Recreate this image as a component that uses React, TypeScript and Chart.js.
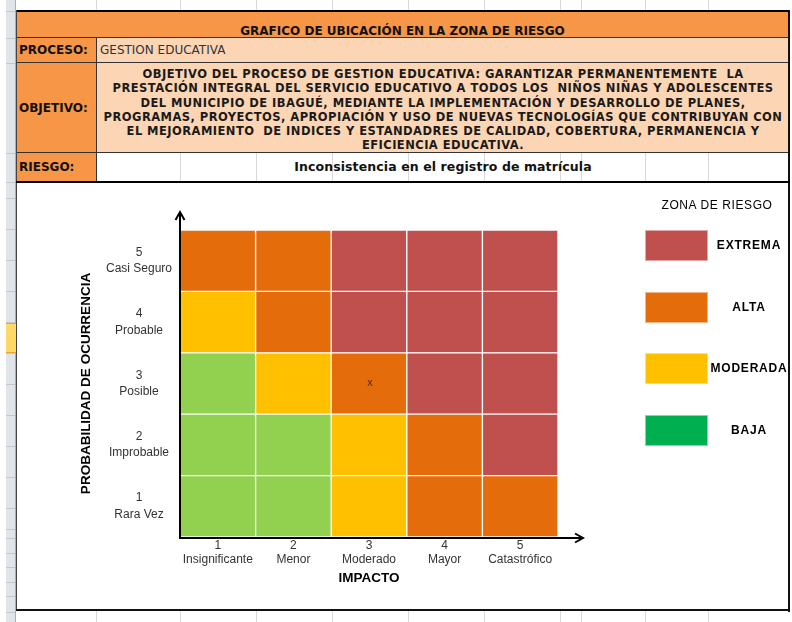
import React, { useEffect, useRef } from "react";
import { Chart, registerables } from "chart.js";

Chart.register(...registerables);

// ---------- data ----------
const TITLE = "GRAFICO DE UBICACIÓN EN LA ZONA DE RIESGO";
const PROCESS_LABEL = "PROCESO:";
const PROCESS_VALUE = "GESTION EDUCATIVA";
const OBJECTIVE_LABEL = "OBJETIVO:";
const OBJECTIVE_LINES = [
  "OBJETIVO DEL PROCESO DE GESTION EDUCATIVA: GARANTIZAR PERMANENTEMENTE  LA",
  "PRESTACIÓN INTEGRAL DEL SERVICIO EDUCATIVO A TODOS LOS  NIÑOS NIÑAS Y ADOLESCENTES",
  "DEL MUNICIPIO DE IBAGUÉ, MEDIANTE LA IMPLEMENTACIÓN Y DESARROLLO DE PLANES,",
  "PROGRAMAS, PROYECTOS, APROPIACIÓN Y USO DE NUEVAS TECNOLOGÍAS QUE CONTRIBUYAN CON",
  "EL MEJORAMIENTO  DE INDICES Y ESTANDADRES DE CALIDAD, COBERTURA, PERMANENCIA Y",
  "EFICIENCIA EDUCATIVA.",
];
const RISK_LABEL = "RIESGO:";
const RISK_VALUE = "Inconsistencia en el registro de matrícula";

const IMPACT_LABELS = ["Insignificante", "Menor", "Moderado", "Mayor", "Catastrófico"];
const PROBABILITY_LABELS = ["Rara Vez", "Improbable", "Posible", "Probable", "Casi Seguro"];
const X_TITLE = "IMPACTO";
const Y_TITLE = "PROBABILIDAD DE OCURRENCIA";

// zone code per cell, row by probability (1 = bottom), columns by impact
const ROW_PROB_1 = ["B", "B", "M", "A", "A"];
const ROW_PROB_2 = ["B", "B", "M", "A", "E"];
const ROW_PROB_3 = ["B", "M", "A", "E", "E"];
const ROW_PROB_4 = ["M", "A", "E", "E", "E"];
const ROW_PROB_5 = ["A", "A", "E", "E", "E"];
const MATRIX_ROWS = [ROW_PROB_1, ROW_PROB_2, ROW_PROB_3, ROW_PROB_4, ROW_PROB_5];
const CELL_COLORS: Record<string, string> = {
  E: "#C0504D",
  A: "#E46C0A",
  M: "#FFC000",
  B: "#92D050",
};

const RISK_IMPACT = "Moderado";
const RISK_PROBABILITY = 3;
const RISK_MARK = "x";

const LEGEND_TITLE = "ZONA DE RIESGO";
const LEGEND_LABELS = ["EXTREMA", "ALTA", "MODERADA", "BAJA"];
const LEGEND_COLORS = ["#C0504D", "#E46C0A", "#FFC000", "#00B050"];

// spreadsheet background grid
const SHEET_COLUMNS = [96, 180, 256, 332, 408, 484, 560, 581, 645, 708];
const SHEET_ROWS = [11, 38, 63, 153, 182, 198, 229, 260, 291, 322, 353, 384, 415, 446, 477, 508, 529, 538, 553, 567, 582, 596, 612];

// ---------- styles ----------
const ORANGE = "#F79646";
const PEACH = "#FCD5B4";
const HDR_FONT = "'DejaVu Sans', sans-serif";

const arrowPlugin = {
  id: "axisArrows",
  afterDatasetsDraw(chart: any) {
    const { ctx, chartArea } = chart;
    const x0 = chartArea.left;
    const y0 = chartArea.bottom + 1;
    ctx.save();
    ctx.strokeStyle = "#000";
    ctx.lineWidth = 2;
    ctx.lineCap = "butt";
    // y axis
    const yTip = chartArea.top - 18;
    ctx.beginPath();
    ctx.moveTo(x0, y0 + 1);
    ctx.lineTo(x0, yTip);
    ctx.stroke();
    ctx.beginPath();
    ctx.moveTo(x0 - 4.5, yTip + 8);
    ctx.lineTo(x0, yTip);
    ctx.lineTo(x0 + 4.5, yTip + 8);
    ctx.stroke();
    // x axis
    const xTip = chartArea.right + 25;
    ctx.beginPath();
    ctx.moveTo(x0 - 1, y0);
    ctx.lineTo(xTip, y0);
    ctx.stroke();
    ctx.beginPath();
    ctx.moveTo(xTip - 8, y0 - 4.5);
    ctx.lineTo(xTip, y0);
    ctx.lineTo(xTip - 8, y0 + 4.5);
    ctx.stroke();
    ctx.restore();
  },
};

const markPlugin = {
  id: "riskMark",
  afterDatasetsDraw(chart: any) {
    const { ctx, scales } = chart;
    const xi = IMPACT_LABELS.indexOf(RISK_IMPACT);
    const px = scales.x.getPixelForValue(xi);
    const py = scales.y.getPixelForValue(RISK_PROBABILITY - 0.5);
    ctx.save();
    ctx.fillStyle = "#5A2A05";
    ctx.font = "11px 'Liberation Sans'";
    ctx.textAlign = "center";
    ctx.textBaseline = "middle";
    ctx.fillText(RISK_MARK, px + 1, py - 1);
    ctx.restore();
  },
};

function RiskChart() {
  const ref = useRef<HTMLCanvasElement | null>(null);
  useEffect(() => {
    if (!ref.current) return;
    const datasets = MATRIX_ROWS.map((row, i) => ({
      label: PROBABILITY_LABELS[i],
      data: row.map(() => 1),
      backgroundColor: row.map((z) => CELL_COLORS[z]),
      borderColor: "#FFFFFF",
      borderWidth: 1,
      borderSkipped: false,
      barPercentage: 1,
      categoryPercentage: 1,
    }));
    const chart = new Chart(ref.current, {
      type: "bar",
      data: { labels: IMPACT_LABELS, datasets },
      plugins: [arrowPlugin, markPlugin],
      options: {
        responsive: false,
        animation: false,
        devicePixelRatio: 1,
        layout: { padding: { top: 47, right: 231, left: 0, bottom: 0 } },
        plugins: { legend: { display: false }, tooltip: { enabled: false } },
        scales: {
          x: {
            stacked: true,
            grid: { display: false, drawTicks: false },
            border: { display: false },
            afterFit: (s: any) => {
              s.height = 73;
            },
            ticks: {
              padding: 1.5,
              color: "#333",
              font: { family: "'Liberation Sans'", size: 12, lineHeight: 1.2 },
              maxRotation: 0,
              autoSkip: false,
              callback: (_v: any, i: number) => [String(i + 1), IMPACT_LABELS[i]],
            },
            title: {
              display: true,
              text: X_TITLE,
              color: "#000",
              font: { family: "'Liberation Sans'", size: 13.5, weight: "bold", lineHeight: 1.2 },
              padding: { top: 0, bottom: 24 },
            },
          },
          y: {
            stacked: true,
            min: 0,
            max: PROBABILITY_LABELS.length,
            grid: { display: false, drawTicks: false },
            border: { display: false },
            afterFit: (s: any) => {
              s.width = 164;
            },
            afterBuildTicks: (s: any) => {
              s.ticks = PROBABILITY_LABELS.map((_, i) => ({ value: i + 0.5 }));
            },
            ticks: {
              padding: 8,
              crossAlign: "center",
              color: "#333",
              autoSkip: false,
              font: { family: "'Liberation Sans'", size: 12, lineHeight: 1.36 },
              callback: (_v: any, i: number) => [String(i + 1), PROBABILITY_LABELS[i]],
            },
            title: {
              display: true,
              text: Y_TITLE,
              color: "#000",
              font: { family: "'Liberation Sans'", size: 13.5, weight: "bold", lineHeight: 1.2 },
              padding: { top: 62, bottom: 0 },
            },
          },
        },
      } as any,
    });
    return () => chart.destroy();
  }, []);
  return <canvas ref={ref} width={773} height={427} style={{ width: 773, height: 427, display: "block" }} />;
}

const abs = (l: number, t: number, w: number, h: number, extra: any = {}) => ({
  position: "absolute" as const,
  left: l,
  top: t,
  width: w,
  height: h,
  boxSizing: "border-box" as const,
  ...extra,
});

export default function App() {
  return (
    <div style={{ position: "fixed", left: 0, top: 0, width: 792, height: 622, background: "#fff", overflow: "hidden" }}>
      {/* spreadsheet grid */}
      {SHEET_COLUMNS.map((x) => (
        <div key={"c" + x} style={abs(x, 0, 1, 622, { background: "#D9D9D9" })} />
      ))}
      <div style={abs(6, 0, 10, 622, { background: "#E1E4E9", borderRight: "1px solid #A9B0BA" })} />
      <div style={abs(6, 323, 10, 30, { background: "#FFD966", borderTop: "1px solid #E2A93A", borderBottom: "1px solid #E2A93A" })} />
      {SHEET_ROWS.map((y) => (
        <div key={"r" + y} style={abs(6, y, 9, 1, { background: "#C3C8CF" })} />
      ))}
      <div style={abs(789, 0, 3, 622, { background: "#fff" })} />

      {/* header table */}
      <div style={abs(16, 10, 774, 2, { background: "#000" })} />
      <div style={abs(16, 12, 773, 26, { background: ORANGE })} />
      <div
        style={abs(16, 12, 773, 26, {
          fontFamily: HDR_FONT,
          fontWeight: "bold",
          fontSize: 12,
          textAlign: "center",
          lineHeight: "14px",
          paddingTop: 12,
          color: "#111",
          whiteSpace: "nowrap",
        })}
      >
        {TITLE}
      </div>
      <div style={abs(16, 37, 773, 1, { background: "#333" })} />
      {/* proceso row */}
      <div style={abs(16, 38, 81, 25, { background: ORANGE })} />
      <div style={abs(97, 38, 692, 25, { background: PEACH })} />
      <div style={abs(19, 38, 78, 25, { fontFamily: HDR_FONT, fontWeight: "bold", fontSize: 12, lineHeight: "25px", color: "#111" })}>
        {PROCESS_LABEL}
      </div>
      <div
        style={abs(100, 38, 400, 25, {
          fontFamily: HDR_FONT,
          fontSize: 12,
          lineHeight: "25px",
          color: "#333",
          letterSpacing: 0,
          whiteSpace: "nowrap",
        })}
      >
        {PROCESS_VALUE}
      </div>
      <div style={abs(16, 62, 773, 1, { background: "#333" })} />
      {/* objetivo row */}
      <div style={abs(16, 63, 81, 90, { background: ORANGE })} />
      <div style={abs(97, 63, 692, 90, { background: PEACH })} />
      <div style={abs(19, 63, 78, 90, { fontFamily: HDR_FONT, fontWeight: "bold", fontSize: 12, lineHeight: "90px", color: "#111" })}>
        {OBJECTIVE_LABEL}
      </div>
      <div
        style={abs(97, 67, 692, 86, {
          fontFamily: HDR_FONT,
          fontWeight: "bold",
          fontSize: 11.5,
          lineHeight: "14.3px",
          letterSpacing: 0.45,
          textAlign: "center",
          color: "#1a1a1a",
          whiteSpace: "pre",
        })}
      >
        {OBJECTIVE_LINES.join("\n")}
      </div>
      <div style={abs(16, 152, 773, 1, { background: "#333" })} />
      {/* riesgo row */}
      <div style={abs(16, 153, 81, 28, { background: ORANGE })} />
      <div style={abs(19, 153, 78, 28, { fontFamily: HDR_FONT, fontWeight: "bold", fontSize: 12, lineHeight: "28px", color: "#111" })}>
        {RISK_LABEL}
      </div>
      <div
        style={abs(97, 153, 692, 28, {
          fontFamily: HDR_FONT,
          fontWeight: "bold",
          fontSize: 12.5,
          lineHeight: "28px",
          letterSpacing: 0.1,
          textAlign: "center",
          color: "#111",
          whiteSpace: "nowrap",
        })}
      >
        {RISK_VALUE}
      </div>
      {/* vertical borders */}
      <div style={abs(96, 37, 1, 145, { background: "#333" })} />
      <div style={abs(16, 10, 1, 601, { background: "#444" })} />
      <div style={abs(788, 10, 2, 602, { background: "#111" })} />
      <div style={abs(16, 181, 774, 2, { background: "#000" })} />

      {/* chart box */}
      <div style={abs(17, 183, 771, 427, { background: "#fff" })} />
      <div style={abs(16, 609, 774, 2, { background: "#111" })} />
      <div style={abs(16, 183, 773, 427)}>
        <RiskChart />
      </div>

      {/* legend */}
      <div
        style={abs(645, 198, 144, 14, {
          fontFamily: "'Liberation Sans', sans-serif",
          fontSize: 12,
          lineHeight: "14px",
          textAlign: "center",
          color: "#000",
          letterSpacing: 0.6,
          whiteSpace: "nowrap",
        })}
      >
        {LEGEND_TITLE}
      </div>
      {LEGEND_LABELS.map((lab, i) => (
        <React.Fragment key={lab}>
          <div
            style={abs(645, 230 + i * 61.7, 63, 31, {
              background: LEGEND_COLORS[i],
              border: "1px solid rgba(255,255,255,0.5)",
            })}
          />
          <div
            style={abs(707, 230 + i * 61.7, 84, 31, {
              fontFamily: "'Liberation Sans', sans-serif",
              fontWeight: "bold",
              fontSize: 12,
              lineHeight: "31px",
              textAlign: "center",
              letterSpacing: 0.8,
              color: "#000",
              whiteSpace: "nowrap",
            })}
          >
            {lab}
          </div>
        </React.Fragment>
      ))}
    </div>
  );
}
